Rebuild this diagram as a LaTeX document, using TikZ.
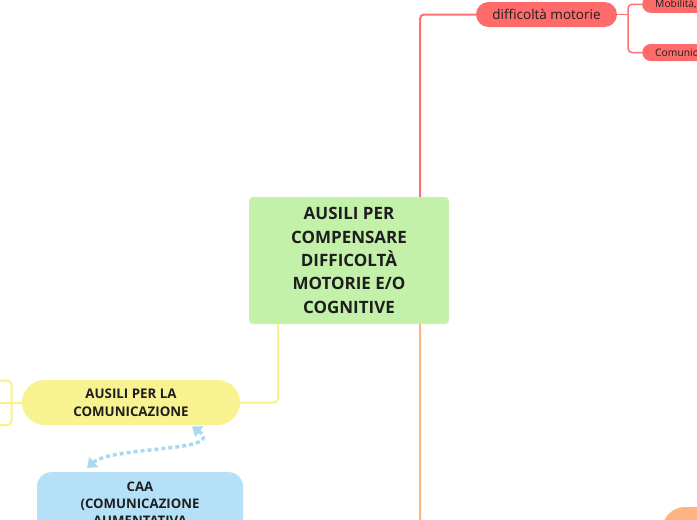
\documentclass[tikz,border=0pt]{standalone}
\usepackage{fontspec}
\setmainfont{Open Sans}
\usetikzlibrary{arrows.meta}
\definecolor{cgreen}{HTML}{C3F1AA}
\definecolor{cred}{HTML}{FF6B6B}
\definecolor{credline}{HTML}{FF7070}
\definecolor{cyellow}{HTML}{F8F290}
\definecolor{cyline}{HTML}{F9F28A}
\definecolor{cblue}{HTML}{B4E1F7}
\definecolor{cbline}{HTML}{A9D9F2}
\definecolor{corange}{HTML}{FFB380}
\definecolor{ctext}{HTML}{1E1E1E}
\tikzset{
  x=1pt,y=-1pt,
  centralbox/.style={fill=cgreen,draw=black!7,rounded corners=4pt,minimum width=200pt,minimum height=127pt,
    align=center,font=\fontsize{17}{23.3}\selectfont\bfseries,text=ctext,inner sep=0pt},
  redbox/.style={fill=cred,rounded corners=12.5pt,minimum width=141pt,minimum height=25pt,
    font=\fontsize{13.5}{15}\selectfont,text=ctext,inner sep=0pt},
  smallbox/.style={fill=cred,rounded corners=8.5pt,minimum height=17pt,text width=80pt,align=left,
    inner xsep=13pt,inner ysep=0pt,font=\fontsize{10.3}{11}\selectfont,text=ctext,anchor=west},
  yellowbox/.style={fill=cyellow,rounded corners=22.5pt,minimum width=218pt,minimum height=45pt,
    align=center,font=\fontsize{13.3}{18}\selectfont\bfseries,text=ctext,inner sep=0pt},
  bluebox/.style={fill=cblue,rounded corners=14pt,minimum width=206pt,minimum height=100pt,
    align=center,font=\fontsize{13.2}{17}\selectfont\bfseries,text=ctext,inner sep=0pt,anchor=north,text depth=62pt},
  orangebox/.style={fill=corange,rounded corners=23pt,minimum width=150pt,minimum height=46pt,anchor=west},
  redline/.style={draw=credline,line width=2pt,rounded corners=4pt},
  redthin/.style={draw=credline,line width=1.5pt,rounded corners=4pt},
  yline/.style={draw=cyline,line width=2pt,rounded corners=4pt},
  oline/.style={draw=corange,line width=2pt,rounded corners=4pt},
  dotarrow/.style={draw=cbline,line width=3.5pt,dash pattern=on 4pt off 3pt,
    {Triangle[length=9pt,width=13pt]}-{Triangle[length=9pt,width=13pt]}},
}
\begin{document}
\begin{tikzpicture}
\useasboundingbox (0,0) rectangle (697,520);
\clip (0,0) rectangle (697,520);
% nodes
\node[centralbox] (c) at (349,260.5) {AUSILI PER\\COMPENSARE\\DIFFICOLTÀ\\MOTORIE E/O\\COGNITIVE};
\node[redbox] (rm) at (546.5,14.5) {difficoltà motorie};
\node[smallbox] (mob) at (642,4.3) {Mobilità,};
\node[smallbox] (com) at (642,52.5) {Comunicazione};
\node[yellowbox] (yl) at (131,402.5) {AUSILI PER LA\\COMUNICAZIONE};
\node[bluebox] (caa) at (140,472) {\rule{0pt}{19pt}CAA\\(COMUNICAZIONE\\AUMENTATIVA};
\node[orangebox] (ob) at (662,530) {};
% connectors
\draw[redline] (c.north -| 420,0) |- (rm.west);
\coordinate (rb) at (628,14.5);
\draw[redthin] (rm.east) -- (rb);
\draw[redthin] (rb) |- (mob.west);
\draw[redthin] (rb) |- (com.west);
\draw[oline] (c.south -| 420,0) |- (ob.west);
\draw[yline] (c.south -| 278,0) |- (yl.east);
\coordinate (lt) at (-2,380.7);
\coordinate (lm) at (11.5,402.5);
\coordinate (lb) at (-2,425);
\coordinate (ll) at (-2,402.5);
\draw[yline] (yl.west) -- (ll);
\draw[yline] (lt) -| (lm) |- (lb);
\coordinate (d1) at (87,468);
\coordinate (d2) at (192,426.5);
\draw[dotarrow] (d1) .. controls (112,446) and (228,452) .. (d2);
\end{tikzpicture}
\end{document}
